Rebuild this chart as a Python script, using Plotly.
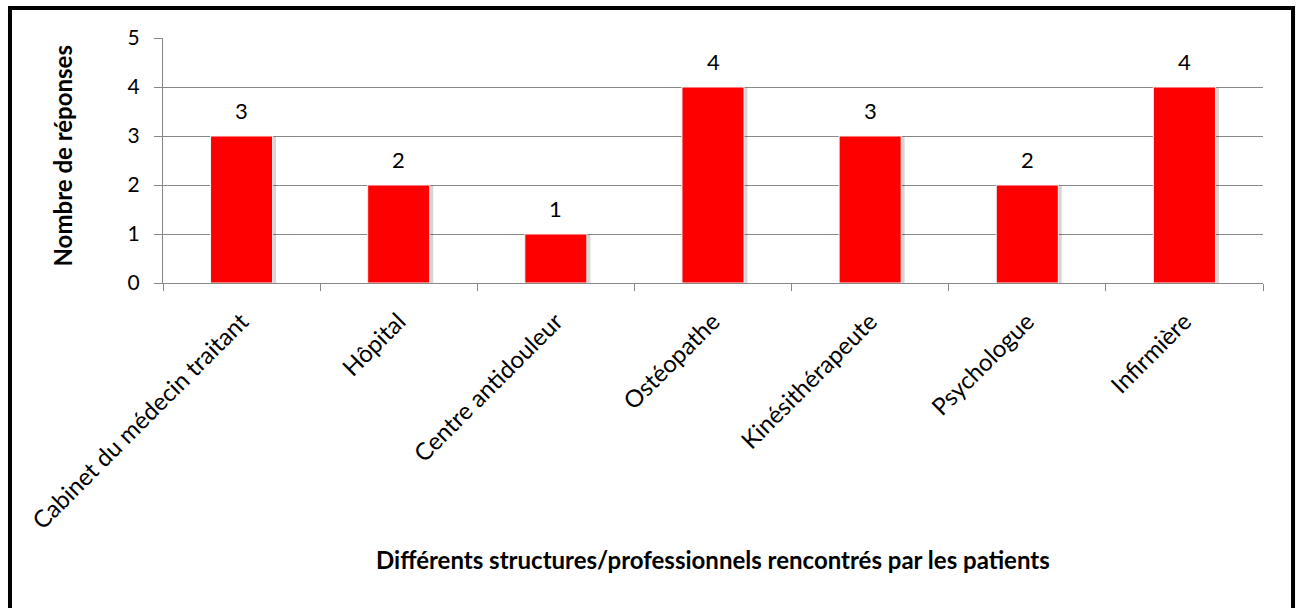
import plotly.graph_objects as go

# Données : structures / professionnels rencontrés et nombre de réponses
categories = [
    "Cabinet du médecin traitant",
    "Hôpital",
    "Centre antidouleur",
    "Ostéopathe",
    "Kinésithérapeute",
    "Psychologue",
    "Infirmière",
]
responses = [3, 2, 1, 4, 3, 2, 4]
y_ticks = [0, 1, 2, 3, 4, 5]

y_title = "Nombre de réponses"
x_title = "Différents structures/professionnels rencontrés par les patients"

FONT = "Lato"
BAR_W = 0.395

fig = go.Figure()

# léger ombrage derrière les barres
fig.add_trace(go.Bar(
    x=categories,
    y=[v + 0.015 for v in responses],
    base=-0.03,
    width=BAR_W,
    offset=-BAR_W / 2 + 0.022,
    marker=dict(color="rgba(0,0,0,0.16)", line=dict(width=0)),
    hoverinfo="skip",
    showlegend=False,
))

# barres principales
fig.add_trace(go.Bar(
    x=categories,
    y=responses,
    width=BAR_W,
    offset=-BAR_W / 2,
    marker=dict(color="#FF0000", line=dict(color="#F4F4F4", width=1)),
    showlegend=False,
))

# étiquettes de valeur au-dessus des barres
for cat, val in zip(categories, responses):
    fig.add_annotation(
        x=cat, y=val, text=str(val), showarrow=False,
        yanchor="middle", yshift=26,
        font=dict(family=FONT, size=22, color="#000000"),
    )

# titre de l'axe vertical
fig.add_annotation(
    xref="paper", yref="paper", x=-0.091, y=0.52,
    text=f"<b>{y_title}</b>", showarrow=False, textangle=-90,
    xanchor="center", yanchor="middle",
    font=dict(family=FONT, size=24, color="#000000"),
)

# titre de l'axe horizontal
fig.add_annotation(
    xref="paper", yref="paper", x=0.5, y=-1.13,
    text=f"<b>{x_title}</b>", showarrow=False,
    xanchor="center", yanchor="middle",
    font=dict(family=FONT, size=24, color="#000000"),
)

# cadre noir autour du graphique
fig.add_shape(
    type="rect", xref="paper", yref="paper",
    x0=-0.1391, x1=1.0273, y0=-1.36, y1=1.1224,
    line=dict(color="#000000", width=4), layer="above",
)

fig.update_layout(
    width=1296, height=608,
    margin=dict(l=163, r=33, t=38, b=325),
    paper_bgcolor="#FFFFFF", plot_bgcolor="#FFFFFF",
    barmode="overlay",
    font=dict(family=FONT, size=20, color="#000000"),
    xaxis=dict(
        type="category",
        tickangle=-45,
        tickson="boundaries",
        ticks="outside", ticklen=7, tickcolor="#888888", tickwidth=1,
        showgrid=False,
        showline=True, linecolor="#888888", linewidth=1,
        tickfont=dict(family=FONT, size=24, color="#000000"),
        ticklabelstandoff=14,
    ),
    yaxis=dict(
        range=[0, 5],
        tickvals=y_ticks,
        ticks="outside", ticklen=8, tickcolor="#888888", tickwidth=1,
        showgrid=True, gridcolor="#888888", gridwidth=1,
        showline=True, linecolor="#888888", linewidth=1,
        zeroline=False,
        tickfont=dict(family=FONT, size=21, color="#000000"),
        ticklabelstandoff=10,
    ),
)

fig.write_html("out.html")
